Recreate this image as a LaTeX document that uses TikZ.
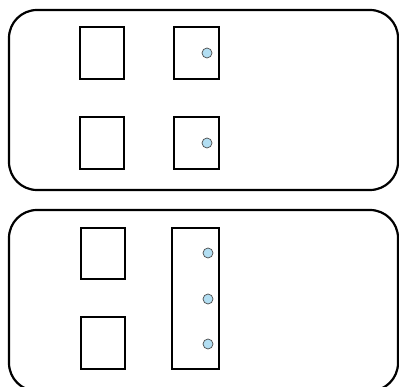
\documentclass[tikz,border=0pt]{standalone}
\begin{document}
\begin{tikzpicture}[x=1pt,y=-1pt,
  panel/.style={draw=black,line width=2.2pt,rounded corners=28pt},
  cell/.style={draw=black,line width=1.2pt,fill=white},
  dot/.style={circle,draw=black!70,line width=0.7pt,fill={rgb,255:red,178;green,222;blue,242},minimum size=10pt,inner sep=0pt}]
\useasboundingbox (0,0) rectangle (399,387);
\begin{scope}
\clip (0,0) rectangle (399,387);
\draw[panel] (9,10) rectangle (398,190);
\draw[panel] (9,210) rectangle (398,391);
\end{scope}
% top panel
\draw[cell] (80,27) rectangle (124,79);
\draw[cell] (174,27) rectangle (219,79);
\draw[cell] (80,117) rectangle (124,169);
\draw[cell] (174,117) rectangle (219,169);
\node[dot] (d1) at (207,53) {};
\node[dot] (d2) at (207,143) {};
% bottom panel
\draw[cell] (81,228) rectangle (125,279);
\draw[cell] (81,317) rectangle (125,369);
\draw[cell] (172,228) rectangle (219,369);
\node[dot] (d3) at (208,253) {};
\node[dot] (d4) at (208,299) {};
\node[dot] (d5) at (208,344) {};
\end{tikzpicture}
\end{document}
